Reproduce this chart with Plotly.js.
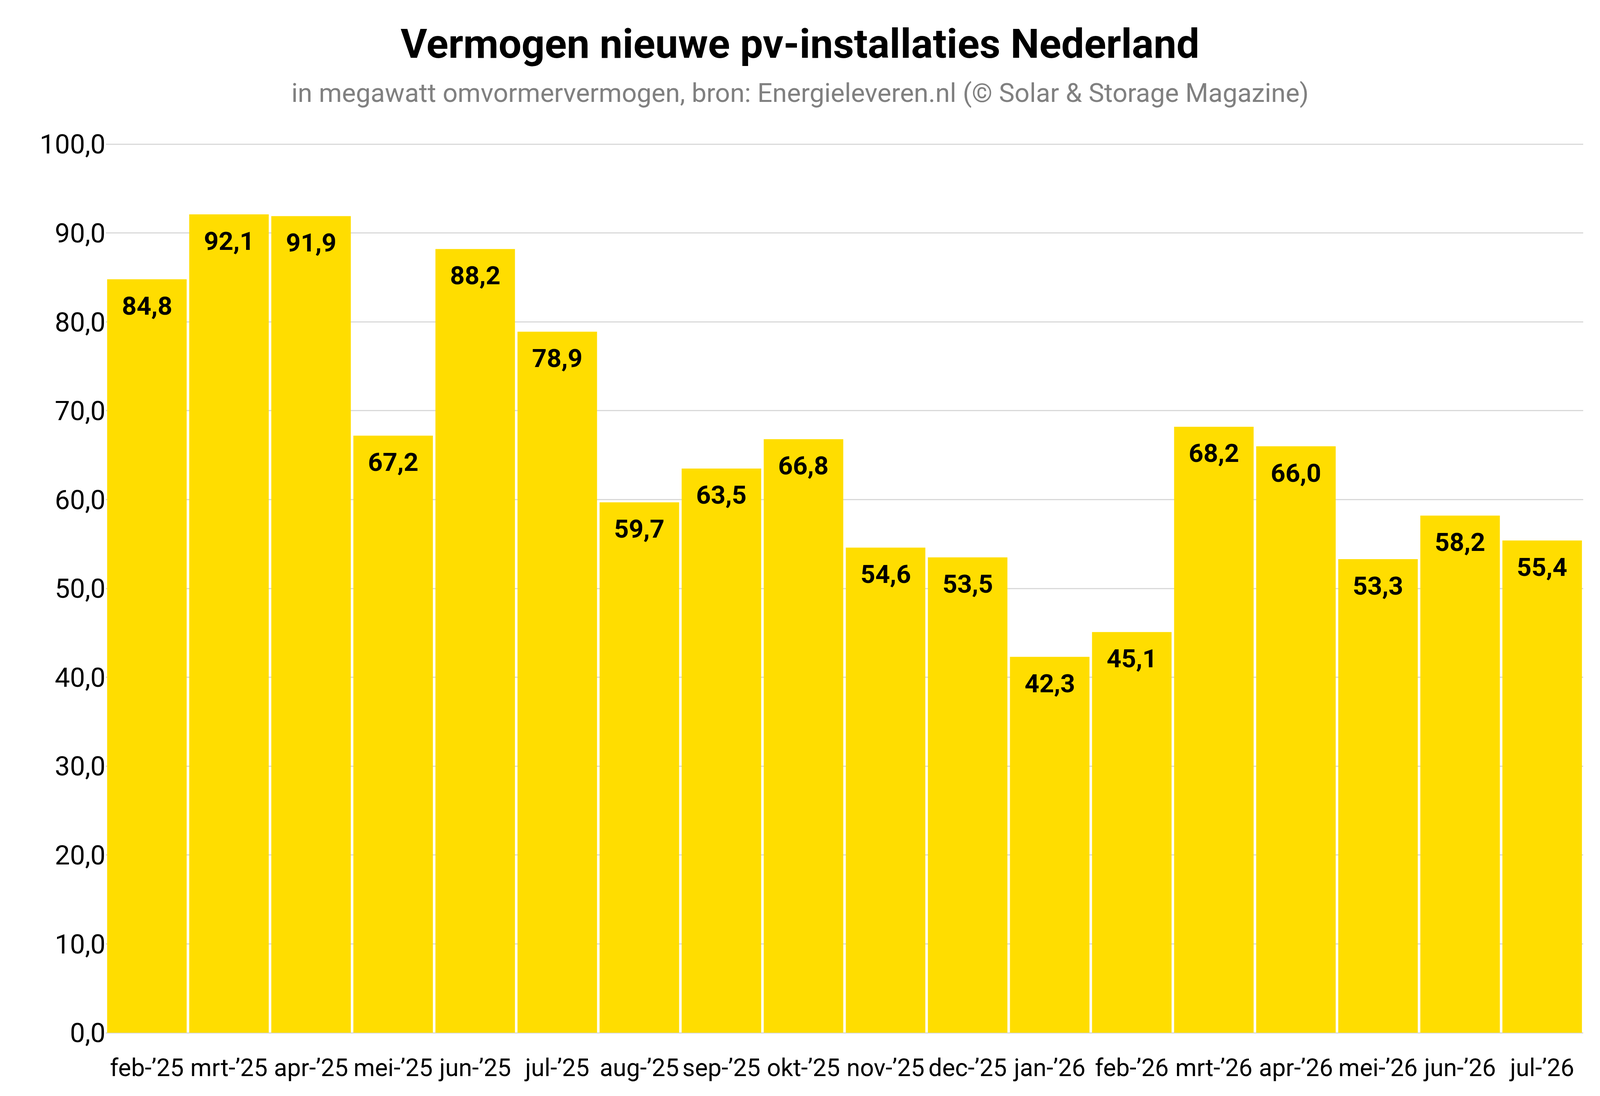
<!DOCTYPE html>
<html>
<head>
<meta charset="utf-8">
<script src="https://cdn.plot.ly/plotly-3.0.1.min.js"></script>
<style>html,body{margin:0;padding:0;background:#fff;overflow:hidden;}#chart{position:absolute;left:0;top:0;}</style>
</head>
<body>
<div id="chart"></div>
<script>
const categories = ["feb-’25","mrt-’25","apr-’25","mei-’25","jun-’25","jul-’25","aug-’25","sep-’25","okt-’25","nov-’25","dec-’25","jan-’26","feb-’26","mrt-’26","apr-’26","mei-’26","jun-’26","jul-’26"];
const values = [84.8, 92.1, 91.9, 67.2, 88.2, 78.9, 59.7, 63.5, 66.8, 54.6, 53.5, 42.3, 45.1, 68.2, 66.0, 53.3, 58.2, 55.4];
const yTicks = [0,10,20,30,40,50,60,70,80,90,100];
const titleText = "Vermogen nieuwe pv-installaties Nederland";
const subtitleText = "in megawatt omvormervermogen, bron: Energieleveren.nl (© Solar & Storage Magazine)";

// Design size of the reference; the page fills the real viewport.
const W = Math.min(window.innerWidth || 4990, 4990);
const H = window.innerHeight || 2807;
const sx = W / 4990, sy = H / 2807, fs = Math.min(sx, sy);

const trace = {
  type: 'bar',
  x: categories,
  y: values,
  marker: {color: '#FFDD00'},
  hoverinfo: 'none'
};

const valueLabels = categories.map((c, i) => ({
  x: c, y: values[i], xref: 'x', yref: 'y',
  text: '<b>' + values[i].toFixed(1).replace('.', ',') + '</b>',
  showarrow: false, xanchor: 'center', yanchor: 'middle',
  yshift: -68 * sy,
  font: {family: 'Roboto', size: 80 * fs, color: '#000'}
}));

const layout = {
  width: W, height: H,
  paper_bgcolor: '#fff', plot_bgcolor: '#fff',
  margin: {l: 330 * sx, r: 52 * sx, t: 367 * sy, b: 162 * sy, pad: 0},
  separators: ',.',
  bargap: 0.031,
  showlegend: false,
  font: {family: 'Roboto', color: '#000'},
  title: {
    text: '<b>' + titleText + '</b>',
    font: {family: 'Roboto', size: 127 * fs, color: '#000'},
    xref: 'container', x: 0.5, xanchor: 'center',
    yref: 'container', y: 1 - 112/2807, yanchor: 'middle'
  },
  annotations: [{
    text: subtitleText,
    xref: 'paper', x: (2495-330)/4608, xanchor: 'center',
    yref: 'paper', y: (2645-238)/2278, yanchor: 'middle',
    showarrow: false,
    font: {family: 'Roboto', size: 82 * fs, color: '#808080'}
  }].concat(valueLabels),
  xaxis: {
    type: 'category',
    tickfont: {family: 'Roboto', size: 76 * fs, color: '#000'},
    ticks: '', showgrid: false, showline: false, zeroline: false,
    ticklabelstandoff: 48 * sy
  },
  yaxis: {
    range: [0, 100.1],
    tickvals: yTicks,
    tickformat: '.1f',
    tickfont: {family: 'Roboto', size: 84 * fs, color: '#000'},
    showgrid: true, gridcolor: '#d9d9d9', gridwidth: 3,
    zeroline: true, zerolinecolor: '#d9d9d9', zerolinewidth: 3,
    showline: false, ticks: '',
    ticklabelstandoff: 100 * sx
  }
};

Plotly.newPlot('chart', [trace], layout, {displayModeBar: false, staticPlot: true});
</script>
</body>
</html>
